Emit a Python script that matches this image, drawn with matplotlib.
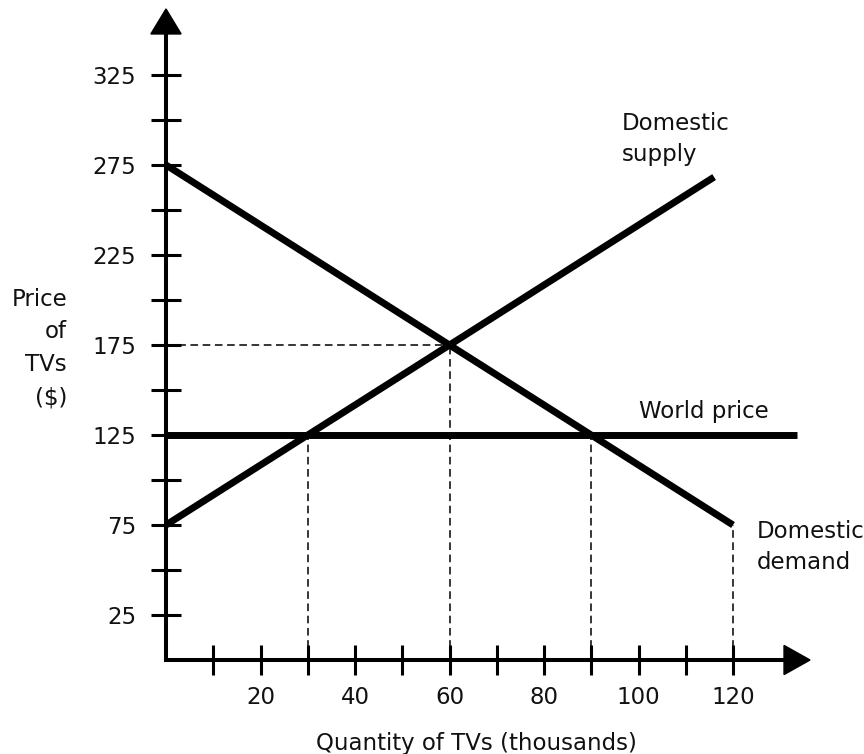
import matplotlib
matplotlib.use("Agg")
import matplotlib.pyplot as plt

# curves (quantity in thousands, price in $)
demand_q = [0, 120]
demand_p = [275, 75]
supply_q = [0, 116]
supply_p = [75, 268.3]
world_q = [0, 133.5]
world_p = [125, 125]

# dashed guide lines
guide_q = [30, 60, 90, 120]
guide_p = [125, 175, 125, 75]
eq_q = 60
eq_p = 175

x_ticks = list(range(10, 130, 10))
x_labels = [str(v) if v % 20 == 0 else "" for v in x_ticks]
y_ticks = list(range(25, 350, 25))
y_labels = [str(v) if v % 50 == 25 else "" for v in y_ticks]

x_max, y_max = 140, 365
x_arrow = (130.8, 136.3)   # base, tip
y_arrow = (347.8, 361.7)

fs = 16.5
ink = "#111111"
plt.rcParams["font.family"] = "DejaVu Sans"

fig = plt.figure(figsize=(8.64, 7.54), dpi=100)
ax = fig.add_axes([166 / 864, 94 / 754, 661.5 / 864, 657 / 754])
ax.set_xlim(0, x_max)
ax.set_ylim(0, y_max)

for s in ("top", "right"):
    ax.spines[s].set_visible(False)
ax.spines["left"].set_bounds(0, y_arrow[0])
ax.spines["bottom"].set_bounds(0, x_arrow[0])
for s in ("left", "bottom"):
    ax.spines[s].set_linewidth(2.9)
    ax.spines[s].set_capstyle("projecting")

# arrow heads
ax.fill([-3.2, 3.2, 0], [y_arrow[0], y_arrow[0], y_arrow[1]], color="black",
        clip_on=False, zorder=5)
ax.fill([x_arrow[0], x_arrow[0], x_arrow[1]], [-8.1, 8.1, 0], color="black",
        clip_on=False, zorder=5)

ax.set_xticks(x_ticks)
ax.set_xticklabels(x_labels)
ax.set_yticks(y_ticks)
ax.set_yticklabels(y_labels)
ax.tick_params(direction="inout", length=21.6, width=2.2, labelsize=fs,
               labelcolor=ink, color="black")
ax.tick_params(axis="x", pad=8)
ax.tick_params(axis="y", pad=10.5)

# dashed guides
dash = dict(color="black", lw=1.1, linestyle=(0, (5, 3)), zorder=2)
for q, p in zip(guide_q, guide_p):
    ax.plot([q, q], [0, p], **dash)
ax.plot([0, eq_q], [eq_p, eq_p], **dash)

# curves
thick = dict(color="black", lw=5, solid_capstyle="butt", zorder=3, clip_on=False)
ax.plot(demand_q, demand_p, **thick)
ax.plot(supply_q, supply_p, **thick)
ax.plot(world_q, world_p, **thick)

# labels
ax.text(96.5, 304.2, "Domestic\nsupply", fontsize=fs, color=ink, ha="left",
        va="top", linespacing=1.43)
ax.text(100.1, 134.4, "World price", fontsize=fs, color=ink, ha="left",
        va="baseline")
ax.text(125.1, 78.0, "Domestic\ndemand", fontsize=fs, color=ink, ha="left",
        va="top", linespacing=1.48, clip_on=False)

fig.text(67 / 864, (754 - 287.6) / 754, "Price\nof\nTVs\n($)", fontsize=fs,
         color=ink, ha="right", va="top", multialignment="right",
         linespacing=1.55)
fig.text(476 / 864, 4 / 754, "Quantity of TVs (thousands)", fontsize=fs,
         color=ink, ha="center", va="baseline")

fig.savefig("out.png", dpi=100)
